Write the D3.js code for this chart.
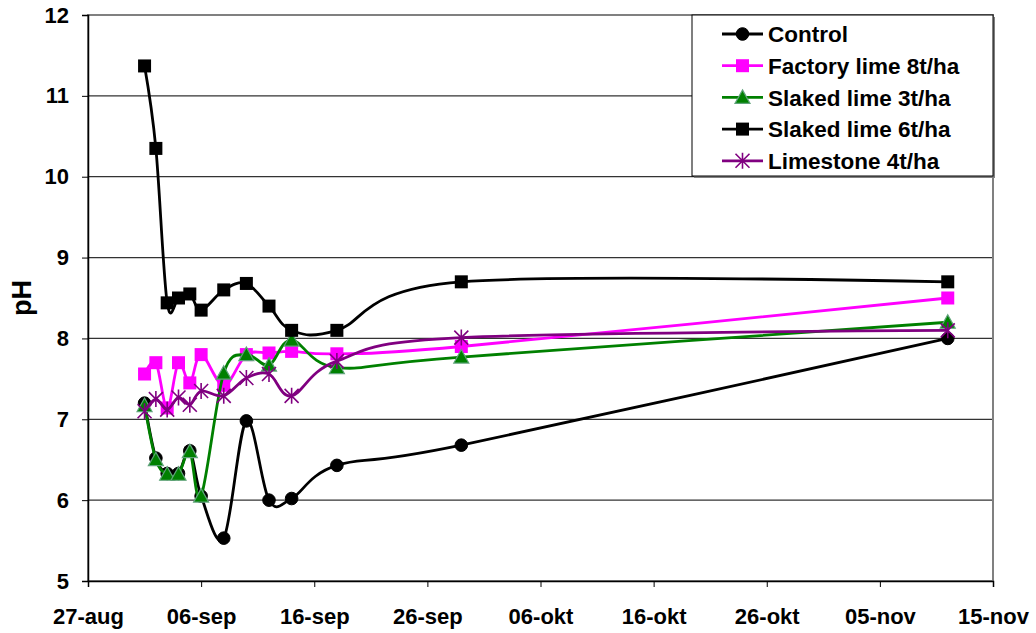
<!DOCTYPE html>
<html><head><meta charset="utf-8">
<script src="https://cdn.jsdelivr.net/npm/d3@7"></script>
<style>body{margin:0;background:#fff}svg{display:block}text{font-family:"Liberation Sans",Arial,sans-serif;font-weight:bold}</style>
</head><body><svg id="c" width="1036" height="633"></svg>
<script>
const dates = ["2009-09-01","2009-09-02","2009-09-03","2009-09-04","2009-09-05","2009-09-06","2009-09-08","2009-09-10","2009-09-12","2009-09-14","2009-09-18","2009-09-29","2009-11-11"];
const control   = [7.20,6.52,6.33,6.33,6.61,6.05,5.53,6.98,6.00,6.02,6.43,6.68,8.00];
const factory8  = [7.56,7.70,7.14,7.70,7.45,7.80,7.42,7.80,7.82,7.84,7.81,7.90,8.50];
const slaked3   = [7.17,6.50,6.32,6.32,6.60,6.05,7.57,7.80,7.67,7.98,7.64,7.77,8.20];
const slaked6   = [11.37,10.35,8.44,8.50,8.55,8.35,8.60,8.68,8.40,8.10,8.10,8.70,8.70];
const limestone = [7.10,7.25,7.12,7.27,7.18,7.35,7.29,7.51,7.56,7.29,7.72,8.01,8.10];
const seriesNames = ["Control","Factory lime 8t/ha","Slaked lime 3t/ha","Slaked lime 6t/ha","Limestone 4t/ha"];
const xTickLabels = ["27-aug","06-sep","16-sep","26-sep","06-okt","16-okt","26-okt","05-nov","15-nov"];
const yTicks = [5,6,7,8,9,10,11,12];

const styles = [
  {color:"#000000", marker:"circle"},
  {color:"#FF00FF", marker:"square"},
  {color:"#008000", marker:"triangle"},
  {color:"#000000", marker:"square"},
  {color:"#800080", marker:"star"}
];
const values = [control,factory8,slaked3,slaked6,limestone];
const parse = d3.timeParse("%Y-%m-%d");
const xd = dates.map(parse);

const L=88,R=993,T=15,B=581;
const svg=d3.select("#c");
const x=d3.scaleTime().domain([parse("2009-08-27"),parse("2009-11-15")]).range([L,R]);
const y=d3.scaleLinear().domain([5,12]).range([B,T]);
const FONT="Liberation Sans, Arial, sans-serif";

// gridlines
svg.append("g").selectAll("line").data(yTicks.filter(v=>v>5&&v<12)).join("line")
  .attr("x1",L).attr("x2",R).attr("y1",d=>y(d)).attr("y2",d=>y(d))
  .attr("stroke","#333").attr("stroke-width",1.2);
// plot border
svg.append("rect").attr("x",L).attr("y",T).attr("width",R-L).attr("height",B-T)
  .attr("fill","none").attr("stroke","#808080").attr("stroke-width",2);

// axes
const xTickDates = xTickLabels.map((_,i)=>d3.timeDay.offset(parse("2009-08-27"),i*10));
const xAxis=d3.axisBottom(x).tickValues(xTickDates).tickFormat((d,i)=>xTickLabels[i]).tickSize(6).tickPadding(21);
const gx=svg.append("g").attr("transform",`translate(0,${B})`).call(xAxis);
gx.select(".domain").attr("stroke","#000").attr("stroke-width",1.5);
gx.selectAll(".tick line").attr("stroke","#000");
gx.selectAll("text").attr("font-size",22).attr("fill","#000").style("font-family",FONT).style("font-weight","bold");
const yAxis=d3.axisLeft(y).tickValues(yTicks).tickFormat(d3.format("d")).tickSize(6).tickPadding(13);
const gy=svg.append("g").attr("transform",`translate(${L},0)`).call(yAxis);
gy.select(".domain").attr("stroke","#000").attr("stroke-width",1.5);
gy.selectAll(".tick line").attr("stroke","#000");
gy.selectAll("text").attr("font-size",22).attr("fill","#000").style("font-family",FONT).style("font-weight","bold");

svg.append("text").attr("transform","translate(31,298) rotate(-90)").attr("text-anchor","middle")
  .attr("font-size",27).text("pH");

function drawMarker(g,type,color,cx,cy){
  if(type==="circle") g.append("circle").attr("cx",cx).attr("cy",cy).attr("r",6.3).attr("fill",color).attr("stroke",color);
  else if(type==="square") g.append("rect").attr("x",cx-6.5).attr("y",cy-6.5).attr("width",13).attr("height",13).attr("fill",color);
  else if(type==="triangle") g.append("path").attr("d",`M${cx},${cy-7.5}L${cx+7.5},${cy+6}L${cx-7.5},${cy+6}Z`).attr("fill",color).attr("stroke","#5fa37a").attr("stroke-width",1.2);
  else if(type==="star"){
    const s=7;
    g.append("path").attr("d",`M${cx-s},${cy-s}L${cx+s},${cy+s}M${cx-s},${cy+s}L${cx+s},${cy-s}M${cx},${cy-s-1}L${cx},${cy+s+1}`)
      .attr("stroke",color).attr("stroke-width",1.6).attr("fill","none");
  }
}

const line=d3.line().x(d=>x(d[0])).y(d=>y(d[1])).curve(d3.curveCatmullRom.alpha(0));
values.forEach((vals,i)=>{
  const pts=xd.map((d,j)=>[d,vals[j]]);
  const g=svg.append("g");
  g.append("path").datum(pts).attr("d",line).attr("fill","none").attr("stroke",styles[i].color).attr("stroke-width",2.8);
  pts.forEach(p=>drawMarker(g,styles[i].marker,styles[i].color,x(p[0]),y(p[1])));
});

// legend
const lg=svg.append("g");
lg.append("rect").attr("x",694).attr("y",17).attr("width",301).attr("height",161).attr("fill","#808080");
lg.append("rect").attr("x",692).attr("y",15).attr("width",301).attr("height",161).attr("fill","#fff").attr("stroke","#000").attr("stroke-width",1);
seriesNames.forEach((n,i)=>{
  const cy=34+i*31.7;
  lg.append("line").attr("x1",722).attr("x2",763).attr("y1",cy).attr("y2",cy).attr("stroke",styles[i].color).attr("stroke-width",2.8);
  drawMarker(lg,styles[i].marker,styles[i].color,742.5,cy);
  lg.append("text").attr("x",768).attr("y",cy).attr("dy","0.36em").attr("font-size",22.5).text(n);
});
</script></body></html>
